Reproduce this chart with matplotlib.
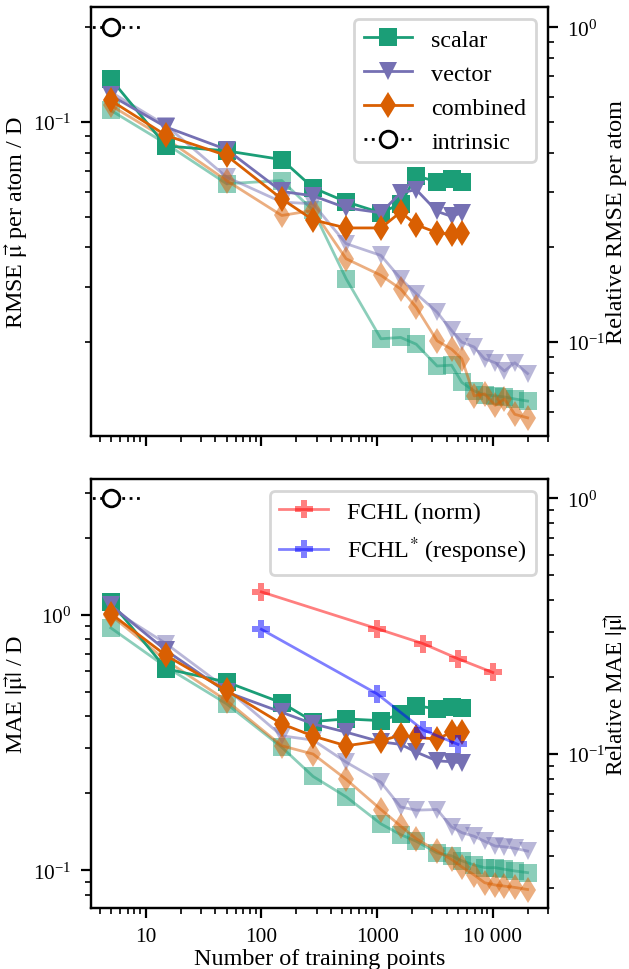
import matplotlib
matplotlib.use("Agg")
import matplotlib.pyplot as plt
from matplotlib.lines import Line2D
from matplotlib.ticker import FuncFormatter, NullFormatter

plt.rcParams['font.family'] = ['Liberation Serif', 'DejaVu Serif']
plt.rcParams['mathtext.fontset'] = 'stix'
plt.rcParams['font.size'] = 7.7

# ---------------- data ----------------
x_dark = [5, 15, 50, 150, 280, 540, 1080, 1600, 2180, 3300, 4400, 5400]
x_light = [5, 15, 50, 150, 280, 540, 1080, 1600, 2180, 3300, 4400, 5400,
           6900, 8500, 10500, 12600, 15500, 20000]

rmse_scalar = [0.137, 0.084, 0.081, 0.076, 0.0618, 0.0558, 0.0515, 0.055, 0.0675, 0.0646, 0.066, 0.0646]
rmse_vector = [0.1215, 0.0964, 0.0818, 0.0602, 0.0583, 0.0534, 0.0515, 0.0596, 0.061, 0.052, 0.0502, 0.0515]
rmse_combined = [0.1171, 0.0907, 0.0783, 0.057, 0.0489, 0.0461, 0.0461, 0.0518, 0.0472, 0.0445, 0.044, 0.0445]
rmse_scalar_l = [0.1089, 0.0853, 0.0637, 0.0652, 0.0524, 0.0318, 0.0205, 0.0207, 0.0197, 0.0168, 0.0169,
                 0.0149, 0.0140, 0.0136, 0.0135, 0.0134, 0.0132, 0.0130]
rmse_vector_l = [0.1245, 0.0975, 0.0669, 0.0557, 0.055, 0.0411, 0.0377, 0.0318, 0.0285, 0.0249, 0.0218,
                 0.0200, 0.0193, 0.0177, 0.0172, 0.0162, 0.0172, 0.0159]
rmse_combined_l = [0.1129, 0.0885, 0.0652, 0.0505, 0.0524, 0.0368, 0.0326, 0.0295, 0.0258, 0.0202, 0.0190,
                   0.0177, 0.0135, 0.0137, 0.0126, 0.0132, 0.0118, 0.0115]

mae_scalar = [1.121, 0.614, 0.545, 0.452, 0.382, 0.391, 0.385, 0.409, 0.440, 0.428, 0.435, 0.430]
mae_vector = [1.088, 0.724, 0.498, 0.415, 0.374, 0.347, 0.318, 0.311, 0.290, 0.268, 0.266, 0.263]
mae_combined = [1.009, 0.692, 0.505, 0.374, 0.335, 0.307, 0.321, 0.338, 0.331, 0.326, 0.347, 0.347]
mae_scalar_l = [0.887, 0.624, 0.448, 0.303, 0.233, 0.194, 0.152, 0.138, 0.130, 0.117, 0.114, 0.109,
                0.105, 0.1025, 0.1025, 0.101, 0.0995, 0.098]
mae_vector_l = [1.056, 0.770, 0.513, 0.336, 0.323, 0.265, 0.221, 0.177, 0.172, 0.173, 0.148, 0.1405,
                0.136, 0.130, 0.1245, 0.1237, 0.122, 0.119]
mae_combined_l = [0.994, 0.662, 0.461, 0.307, 0.285, 0.227, 0.173, 0.149, 0.133, 0.119, 0.1104, 0.1032,
                  0.096, 0.0895, 0.0877, 0.0868, 0.0858, 0.0842]

x_fchl_norm = [100, 1000, 2500, 5000, 10000]
mae_fchl_norm = [1.227, 0.881, 0.770, 0.672, 0.594]
x_fchl_resp = [100, 1000, 2500, 5000]
mae_fchl_resp = [0.876, 0.490, 0.354, 0.311]

intrinsic_x = [3.0, 5, 9.0]
intrinsic_rmse = 0.2
intrinsic_mae = 2.85

labels = ["scalar", "vector", "combined"]
colors = ["#1b9e77", "#7570b3", "#d95f02"]
markers = ["s", "v", "d"]

# ---------------- figure ----------------
fig = plt.figure(figsize=(6.29 / 2, 9.70 / 2), dpi=200)
ax1 = fig.add_axes([0.1447, 0.5495, 0.7265, 0.4423])
ax2 = fig.add_axes([0.1447, 0.0629, 0.7265, 0.4423], sharex=ax1)

MS = 6.5

def draw_panel(ax, dark, light, intrinsic):
    for yl, c, m in zip(light, colors, markers):
        ax.plot(x_light, yl, marker=m, color=c, alpha=0.5, lw=1, ms=MS, mew=0)
    handles = []
    for yd, c, m, lab in zip(dark, colors, markers, labels):
        h, = ax.plot(x_dark, yd, marker=m, color=c, lw=1, ms=MS, mew=0, label=lab)
        handles.append(h)
    ax.plot(intrinsic_x, [intrinsic] * len(intrinsic_x), ':', color='k', lw=1,
            marker='o', markevery=[1], mfc='white', mec='k', ms=6, mew=1)
    hint = Line2D([], [], ls=':', color='k', lw=1, marker='o', mfc='white', mec='k',
                  ms=6, mew=1, label='intrinsic')
    handles.append(hint)
    return handles

h1 = draw_panel(ax1, [rmse_scalar, rmse_vector, rmse_combined],
                [rmse_scalar_l, rmse_vector_l, rmse_combined_l], intrinsic_rmse)
draw_panel(ax2, [mae_scalar, mae_vector, mae_combined],
           [mae_scalar_l, mae_vector_l, mae_combined_l], intrinsic_mae)

p1, = ax2.plot(x_fchl_norm, mae_fchl_norm, marker='P', color='red', alpha=0.5, lw=1, ms=MS, mew=0,
               label='FCHL (norm)')
p2, = ax2.plot(x_fchl_resp, mae_fchl_resp, marker='P', color='blue', alpha=0.5, lw=1, ms=MS, mew=0,
               label='FCHL$^{*}$ (response)')

for ax in (ax1, ax2):
    ax.set_xscale('log')
    ax.set_yscale('log')
ax1.set_xlim(3.37, 30000)

top_lim = (0.01007, 0.232)
bot_lim = (0.0713, 3.39)
ax1.set_ylim(*top_lim)
ax2.set_ylim(*bot_lim)

def xfmt(v, pos):
    if v >= 10000:
        s = f"{int(round(v)):,}".replace(",", " ")
    else:
        s = f"{int(round(v))}"
    return s

ax2.xaxis.set_major_formatter(FuncFormatter(xfmt))
ax2.xaxis.set_minor_formatter(NullFormatter())
plt.setp(ax1.get_xticklabels(), visible=False)

LFS = 8.7
ax1.set_ylabel(r"RMSE $\vec{\mathrm{\mu}}$ per atom / D", fontsize=LFS, va='center')
ax2.set_ylabel(r"MAE $|\vec{\mathrm{\mu}}|$ / D", fontsize=LFS, va='center')
ax2.set_xlabel("Number of training points", fontsize=LFS, va='center')
ax1.yaxis.set_label_coords(-0.164, 0.5)
ax2.yaxis.set_label_coords(-0.164, 0.5)
ax2.xaxis.set_label_coords(0.5, -0.117)

r1 = ax1.twinx()
r1.set_yscale('log')
r1.set_ylim(top_lim[0] / intrinsic_rmse, top_lim[1] / intrinsic_rmse)
r1.set_ylabel("Relative RMSE per atom", fontsize=LFS, va='center')
r2 = ax2.twinx()
r2.set_yscale('log')
r2.set_ylim(bot_lim[0] / intrinsic_mae, bot_lim[1] / intrinsic_mae)
r2.set_ylabel(r"Relative MAE $|\vec{\mathrm{\mu}}|$", fontsize=8.4, va='center')
r1.yaxis.set_label_coords(1.151, 0.5)
r2.yaxis.set_label_coords(1.1495, 0.5)

for ax in (ax1, ax2, r1, r2):
    ax.yaxis.set_minor_formatter(NullFormatter())

ax1.legend(handles=h1, loc='upper right', fontsize=LFS)
ax2.legend(handles=[p1, p2], loc='upper right', fontsize=LFS)

fig.savefig("out.png", dpi=200)
